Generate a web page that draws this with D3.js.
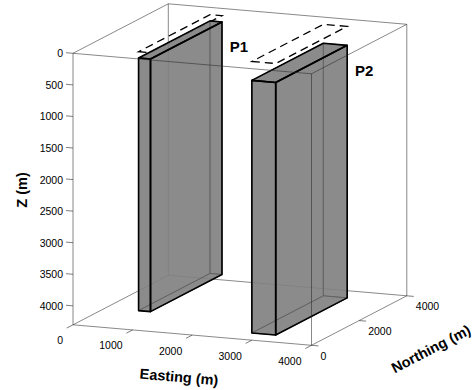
<!DOCTYPE html>
<html>
<head>
<meta charset="utf-8">
<script src="https://cdn.jsdelivr.net/npm/d3@7"></script>
<style>
  html, body { margin: 0; padding: 0; background: #fff; }
  svg { display: block; font-family: "Liberation Sans", Arial, Helvetica, sans-serif; }
</style>
</head>
<body>
<svg id="chart" width="472" height="390"></svg>
<script>
// ---- data ----
const eDomain = [0, 4000];
const nDomain = [0, 4000];
const zDomain = [0, 4300];
const zTicks = [0, 500, 1000, 1500, 2000, 2500, 3000, 3500, 4000];
const eTicks = [0, 1000, 2000, 3000, 4000];
const nTicks = [0, 2000, 4000];
const prismNames = ["P1", "P2"];
const prismEMin = [900, 2800];
const prismEMax = [1100, 3200];
const prismNMin = [500, 500];
const prismNMax = [3500, 3500];
const prismZTop = [100, 300];
const prismZBottom = [4100, 4300];

// ---- projection (orthographic, built from linear scales) ----
const origin = [73, 53.3];
const sEx = d3.scaleLinear().domain(eDomain).range([0, 238.5]);
const sEy = d3.scaleLinear().domain(eDomain).range([0, 20.5]);
const sNx = d3.scaleLinear().domain(nDomain).range([0, 95.3]);
const sNy = d3.scaleLinear().domain(nDomain).range([0, -49.5]);
const sZ  = d3.scaleLinear().domain(zDomain).range([0, 271.5]);
function proj(e, n, z) {
  return [origin[0] + sEx(e) + sNx(n), origin[1] + sEy(e) + sNy(n) + sZ(z)];
}

const svg = d3.select("#chart");
const line = d3.line();
const E0 = eDomain[0], E1 = eDomain[1], N0 = nDomain[0], N1 = nDomain[1], Z0 = zDomain[0], Z1 = zDomain[1];
const axisColor = "#262626";

// box edges: [start, end, front?]
const boxEdges = [
  [[E0,N0,Z0],[E1,N0,Z0], true],
  [[E0,N0,Z1],[E1,N0,Z1], true],
  [[E0,N1,Z0],[E1,N1,Z0], false],
  [[E0,N1,Z1],[E1,N1,Z1], false],
  [[E0,N0,Z0],[E0,N1,Z0], false],
  [[E0,N0,Z1],[E0,N1,Z1], false],
  [[E1,N0,Z0],[E1,N1,Z0], true],
  [[E1,N0,Z1],[E1,N1,Z1], true],
  [[E0,N0,Z0],[E0,N0,Z1], true],
  [[E1,N0,Z0],[E1,N0,Z1], true],
  [[E0,N1,Z0],[E0,N1,Z1], false],
  [[E1,N1,Z0],[E1,N1,Z1], true]
];

function drawBoxEdges(front) {
  svg.append("g").selectAll("path")
    .data(boxEdges.filter(d => d[2] === front))
    .join("path")
    .attr("d", d => line([proj(...d[0]), proj(...d[1])]))
    .attr("fill", "none")
    .attr("stroke", axisColor)
    .attr("stroke-width", 0.55);
}

drawBoxEdges(false);

// dashed surface outlines at Z = 0
svg.append("g").selectAll("path")
  .data(prismNames.map((_, i) => i))
  .join("path")
  .attr("d", i => line([
      proj(prismEMin[i], prismNMin[i], Z0),
      proj(prismEMax[i], prismNMin[i], Z0),
      proj(prismEMax[i], prismNMax[i], Z0),
      proj(prismEMin[i], prismNMax[i], Z0)
    ]) + "Z")
  .attr("fill", "none")
  .attr("stroke", "#000")
  .attr("stroke-width", 1.3)
  .attr("stroke-dasharray", "8,5");

// prisms
prismNames.forEach((name, i) => {
  const ex = [prismEMin[i], prismEMax[i]];
  const nx = [prismNMin[i], prismNMax[i]];
  const zx = [prismZTop[i], prismZBottom[i]];
  const v = (a, b, c) => proj(ex[a], nx[b], zx[c]);
  const faces = {
    mE: [v(0,0,0), v(0,1,0), v(0,1,1), v(0,0,1)],
    pE: [v(1,0,0), v(1,1,0), v(1,1,1), v(1,0,1)],
    mN: [v(0,0,0), v(1,0,0), v(1,0,1), v(0,0,1)],
    pN: [v(0,1,0), v(1,1,0), v(1,1,1), v(0,1,1)],
    top: [v(0,0,0), v(1,0,0), v(1,1,0), v(0,1,0)],
    bot: [v(0,0,1), v(1,0,1), v(1,1,1), v(0,1,1)]
  };
  const hidden = ["mE", "pN", "bot"];
  const visible = ["pE", "mN", "top"];
  const g = svg.append("g");
  g.selectAll("path.hid").data(hidden).join("path")
    .attr("class", "hid")
    .attr("d", k => line(faces[k]) + "Z")
    .attr("fill", "#808080").attr("fill-opacity", 0.7)
    .attr("stroke", "#000").attr("stroke-width", 0.7)
    .attr("stroke-linejoin", "round");
  g.selectAll("path.vis").data(visible).join("path")
    .attr("class", "vis")
    .attr("d", k => line(faces[k]) + "Z")
    .attr("fill", "#808080").attr("fill-opacity", 0.7)
    .attr("stroke", "none");
  g.selectAll("path.vedge").data(visible).join("path")
    .attr("class", "vedge")
    .attr("d", k => line(faces[k]) + "Z")
    .attr("fill", "none")
    .attr("stroke", "#000").attr("stroke-width", 1.6)
    .attr("stroke-linejoin", "round");
  const corner = proj(prismEMax[i], prismNMax[i], prismZTop[i]);
  svg.append("text")
    .attr("x", corner[0] + 17).attr("y", corner[1] + 25)
    .attr("text-anchor", "middle").attr("dominant-baseline", "central")
    .attr("font-size", 15).attr("font-weight", "bold")
    .text(name);
});

drawBoxEdges(true);

// ---- ticks ----
const tickLen = 7;
function unit(dx, dy) { const l = Math.hypot(dx, dy); return [dx / l, dy / l]; }
const dirMinusE = unit(-(sEx(E1) - sEx(E0)), -(sEy(E1) - sEy(E0)));
const dirMinusN = unit(-(sNx(N1) - sNx(N0)), -(sNy(N1) - sNy(N0)));
const dirPlusE = [-dirMinusE[0], -dirMinusE[1]];

const gT = svg.append("g");
// Z axis ticks (front-left edge)
zTicks.forEach(t => {
  const p = proj(E0, N0, t);
  gT.append("path").attr("d", line([p, [p[0] + dirMinusE[0] * tickLen, p[1] + dirMinusE[1] * tickLen]]))
    .attr("stroke", axisColor).attr("stroke-width", 0.6);
  gT.append("text").attr("x", p[0] - 10).attr("y", p[1])
    .attr("text-anchor", "end").attr("dominant-baseline", "central")
    .attr("font-size", 10.5).text(t);
});
// Easting ticks (front-bottom edge)
eTicks.forEach(t => {
  const p = proj(t, N0, Z1);
  gT.append("path").attr("d", line([p, [p[0] + dirMinusN[0] * tickLen, p[1] + dirMinusN[1] * tickLen]]))
    .attr("stroke", axisColor).attr("stroke-width", 0.6);
  gT.append("text").attr("x", p[0] - 10).attr("y", p[1] + 15.5)
    .attr("text-anchor", "end").attr("dominant-baseline", "central")
    .attr("font-size", 10.5).text(t);
});
// Northing ticks (right-bottom edge)
nTicks.forEach(t => {
  const p = proj(E1, t, Z1);
  gT.append("path").attr("d", line([p, [p[0] + dirPlusE[0] * tickLen, p[1] + dirPlusE[1] * tickLen]]))
    .attr("stroke", axisColor).attr("stroke-width", 0.6);
  gT.append("text").attr("x", p[0] + 9).attr("y", p[1] + 10.5)
    .attr("text-anchor", "start").attr("dominant-baseline", "central")
    .attr("font-size", 10.5).text(t);
});

// ---- axis titles ----
const angE = Math.atan2(sEy(E1), sEx(E1)) * 180 / Math.PI;
const angN = Math.atan2(sNy(N1), sNx(N1)) * 180 / Math.PI;
svg.append("text")
  .attr("transform", "translate(179,377) rotate(" + angE + ")")
  .attr("text-anchor", "middle").attr("dominant-baseline", "central")
  .attr("font-size", 14.5).attr("font-weight", "bold").text("Easting (m)");
svg.append("text")
  .attr("transform", "translate(431,349) rotate(" + angN + ")")
  .attr("text-anchor", "middle").attr("dominant-baseline", "central")
  .attr("font-size", 14.5).attr("font-weight", "bold").text("Northing (m)");
svg.append("text")
  .attr("transform", "translate(22,190) rotate(-90)")
  .attr("text-anchor", "middle").attr("dominant-baseline", "central")
  .attr("font-size", 14.5).attr("font-weight", "bold").text("Z (m)");
</script>
</body>
</html>
